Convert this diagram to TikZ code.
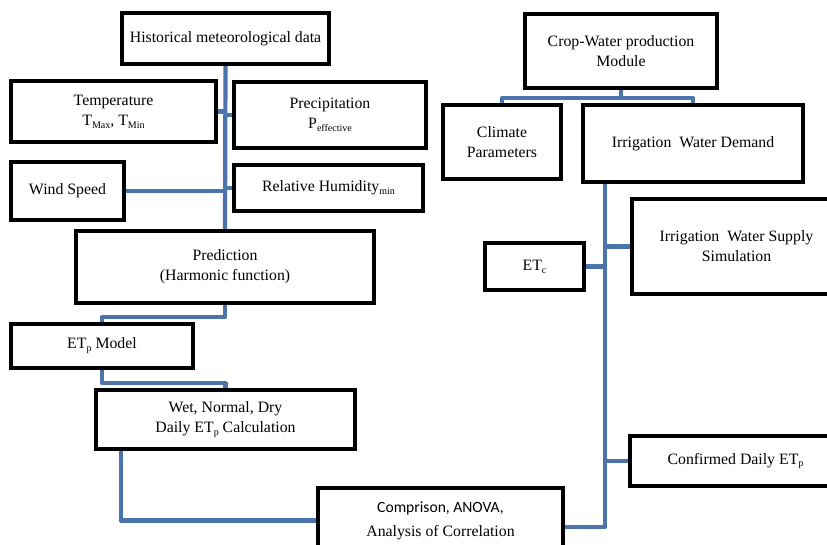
\documentclass[tikz,border=0pt]{standalone}
\usepackage{fontspec}
\setmainfont{Liberation Serif}
\newfontfamily\calib{Carlito}
\usetikzlibrary{calc}
\definecolor{linkblue}{HTML}{4A74AC}
\newcommand{\mysub}[1]{\raisebox{-0.4ex}{\fontsize{10}{10}\selectfont #1}}
\tikzset{
  box/.style={draw=black, line width=2.6pt, fill=white, rectangle, align=center,
    inner sep=0pt, font=\fontsize{15.8}{20}\selectfont},
  link/.style={draw=linkblue, line width=4.2pt, line join=round}
}
\begin{document}
\begin{tikzpicture}[x=1pt,y=-1pt]
\useasboundingbox (0,0) rectangle (827,544);
\clip (0,0) rectangle (827,544);
\fill[white] (0,0) rectangle (827,544);

% left column boxes
\node[box, minimum width=205pt, minimum height=49pt] (hist) at (225.5,38.5) {Historical meteorological data};
\node[box, minimum width=203pt, minimum height=59pt] (temp) at (113.5,111.5) {Temperature\\T\mysub{Max}, T\mysub{Min}};
\node[box, minimum width=190pt, minimum height=64pt] (prec) at (330,115) {Precipitation\\P\mysub{effective}};
\node[box, minimum width=111pt, minimum height=56pt] (wind) at (67.5,191) {Wind Speed};
\node[box, minimum width=187pt, minimum height=44pt] (rh) at (328.5,188) {Relative Humidity\mysub{min}};
\node[box, minimum width=296pt, minimum height=70pt] (pred) at (225,267) {Prediction\\(Harmonic function)};
\node[box, minimum width=180pt, minimum height=42pt] (etp) at (102,346) {ET\mysub{p} Model};
\node[box, minimum width=257pt, minimum height=57pt] (wet) at (225.5,419.5) {Wet, Normal, Dry\\Daily ET\mysub{p} Calculation};
\node[box, minimum width=243pt, minimum height=63pt] (comp) at (440.5,520.5)
  {{\calib\fontsize{15.6}{20}\selectfont Comprison, ANOVA,}\\[4pt]Analysis of Correlation};

% right column boxes
\node[box, minimum width=190pt, minimum height=72pt] (crop) at (621,51) {Crop-Water production\\Module};
\node[box, minimum width=116pt, minimum height=72pt] (clim) at (502,142) {Climate\\Parameters};
\node[box, minimum width=218pt, minimum height=75pt] (iwd) at (693,143.5) {Irrigation\ \ Water Demand};
\node[box, minimum width=207pt, minimum height=93pt] (iws) at (736.5,246.5) {Irrigation\ \ Water Supply\\Simulation};
\node[box, minimum width=97pt, minimum height=45pt] (etc) at (534.5,266.5) {ET\mysub{c}};
\node[box, minimum width=209pt, minimum height=48pt] (conf) at (735.5,461) {Confirmed Daily ET\mysub{p}};

% left connectors
\path[link] (hist.south) -- (pred.north);
\path[link] (temp.east) -- (temp.east -| hist.south);
\path[link] (prec.west) -- (prec.west -| hist.south);
\path[link] (wind.east) -- (wind.east -| hist.south);
\path[link] (rh.west) -- (rh.west -| hist.south);
\path[link] (pred.south) -- ++(0,14) -| (etp.north);
\path[link] (etp.south) -- ++(0,15) -| (wet.north);
\path[link] ([xshift=25pt]wet.south west) |- (comp.west);

% right connectors
\coordinate (rt) at ([xshift=22pt]iwd.south west);
\path[link] (crop.south) -- ++(0,10);
\path[link] (clim.north) |- ([yshift=-10pt]crop.south) -| (iwd.north);
\path[link] ([yshift=-6.5pt]comp.east) -| (rt);
\path[link] (etc.east) -- (etc.east -| rt);
\path[link] (iws.west) -- (iws.west -| rt);
\path[link] (conf.west) -- (conf.west -| rt);

% redraw box borders on top of connectors
\foreach \n in {hist,temp,prec,wind,rh,pred,etp,wet,comp,crop,clim,iwd,iws,etc,conf}{
  \draw[line width=2.6pt] (\n.north west) rectangle (\n.south east);
}
\end{tikzpicture}
\end{document}
